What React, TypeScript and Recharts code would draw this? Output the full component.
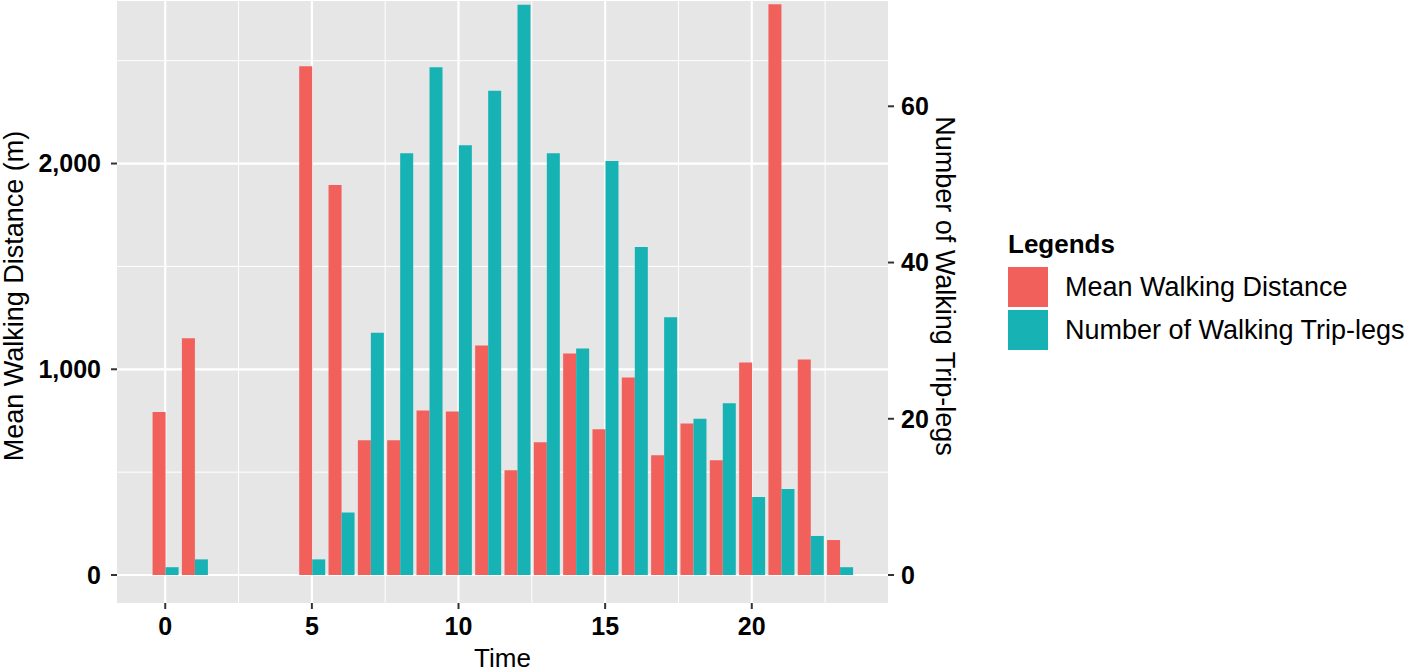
import { BarChart, Bar, XAxis, YAxis, CartesianGrid, Legend, Label } from "recharts";

// hourly walking summary (hours 2-4 have no trips)
const hours = [0, 1, 5, 6, 7, 8, 9, 10, 11, 12, 13, 14, 15, 16, 17, 18, 19, 20, 21, 22, 23];
const meanDistance = [
  792, 1151, 2473, 1896, 655, 655, 800, 795, 1115, 509, 645, 1077, 708, 960, 582, 737, 558, 1033,
  2774, 1048, 170,
];
const tripLegs = [1, 2, 2, 8, 31, 54, 65, 55, 62, 73, 54, 29, 53, 42, 33, 20, 22, 10, 11, 5, 1];

const leftTicks = [0, 1000, 2000];
const leftMinor = [500, 1500, 2500];
const rightTicks = [0, 20, 40, 60];
const xTicks = [0, 5, 10, 15, 20];
const xMinor = [2.5, 7.5, 12.5, 17.5, 22.5];

// sec_axis scale factor
const K = 37.97;
const leftDomain = [-136, 2790];
const rightDomain = [leftDomain[0] / K, leftDomain[1] / K];

const RED = "#F2605C";
const TEAL = "#16B2B4";
const FONT = "'Liberation Sans', Arial, sans-serif";

const data = hours.map((h, i) => ({
  time: h,
  distance: meanDistance[i],
  legs: tripLegs[i],
}));

const tickStyle = { fontSize: 25, fontWeight: 700, fill: "#000000", fontFamily: FONT };

const LegendBox = ({ payload }: { payload?: { value: string; color: string }[] }) => (
  <div style={{ fontFamily: FONT, color: "#000" }}>
    <div style={{ fontSize: 26, fontWeight: 700, lineHeight: "30px", marginBottom: 8 }}>Legends</div>
    {(payload || []).map((p) => (
      <div key={p.value} style={{ display: "flex", alignItems: "center", height: 40, marginBottom: 3 }}>
        <div style={{ width: 40, height: 40, background: p.color }} />
        <span style={{ fontSize: 27, marginLeft: 17 }}>{p.value}</span>
      </div>
    ))}
  </div>
);

export default function App() {
  return (
    <div style={{ position: "absolute", left: 0, top: 0, width: 1418, height: 672, background: "#fff" }}>
      <BarChart
        width={1418}
        height={672}
        data={data}
        margin={{ top: 1, right: 0, left: 0, bottom: 0 }}
        barGap={0}
        barSize={13}
        style={{ fontFamily: FONT }}
      >
        <CartesianGrid
          yAxisId="left"
          fill="#E6E6E6"
          stroke="#FFFFFF"
          strokeWidth={1}
          horizontalValues={leftMinor}
          verticalValues={xMinor}
        />
        <CartesianGrid
          yAxisId="left"
          fill="none"
          stroke="#FFFFFF"
          strokeWidth={2.2}
          horizontalValues={leftTicks}
          verticalValues={xTicks}
        />
        <XAxis
          dataKey="time"
          type="number"
          domain={[-1.645, 24.645]}
          ticks={xTicks}
          allowDataOverflow
          height={69}
          axisLine={false}
          tickLine={{ stroke: "#333333", strokeWidth: 2 }}
          tickSize={6}
          tickMargin={8}
          tick={tickStyle}
        >
          <Label
            content={({ viewBox }: any) => (
              <text
                x={viewBox.x + viewBox.width / 2}
                y={viewBox.y + 64}
                textAnchor="middle"
                fontSize={26}
                fontFamily={FONT}
                fill="#000"
              >
                Time
              </text>
            )}
          />
        </XAxis>
        <YAxis
          yAxisId="left"
          width={117}
          domain={leftDomain}
          ticks={leftTicks}
          allowDataOverflow
          axisLine={false}
          tickLine={{ stroke: "#333333", strokeWidth: 2 }}
          tickSize={6}
          tickMargin={10}
          tick={tickStyle}
          tickFormatter={(v: number) => v.toLocaleString("en-US")}
        >
          <Label
            content={({ viewBox }: any) => (
              <text
                transform={`translate(${viewBox.x + 23}, 296) rotate(-90)`}
                textAnchor="middle"
                fontSize={27}
                fontFamily={FONT}
                fill="#000"
              >
                Mean Walking Distance (m)
              </text>
            )}
          />
        </YAxis>
        <YAxis
          yAxisId="right"
          orientation="right"
          width={530}
          domain={rightDomain}
          ticks={rightTicks}
          allowDataOverflow
          axisLine={false}
          tickLine={{ stroke: "#333333", strokeWidth: 2 }}
          tickSize={6}
          tickMargin={7}
          tick={tickStyle}
        >
          <Label
            content={({ viewBox }: any) => (
              <text
                transform={`translate(${viewBox.x + 48}, 286) rotate(90)`}
                textAnchor="middle"
                fontSize={27}
                fontFamily={FONT}
                fill="#000"
              >
                Number of Walking Trip-legs
              </text>
            )}
          />
        </YAxis>
        <Legend
          layout="vertical"
          align="center"
          verticalAlign="middle"
          wrapperStyle={{ left: 1008, top: 229, width: 410 }}
          content={<LegendBox />}
        />
        <Bar yAxisId="left" dataKey="distance" name="Mean Walking Distance" fill={RED} isAnimationActive={false} />
        <Bar yAxisId="right" dataKey="legs" name="Number of Walking Trip-legs" fill={TEAL} isAnimationActive={false} />
      </BarChart>
    </div>
  );
}
